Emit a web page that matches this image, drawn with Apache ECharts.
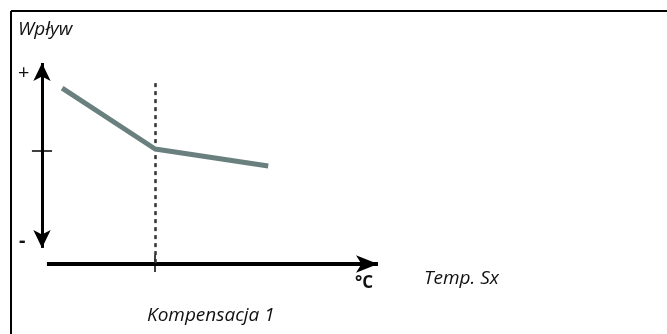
<!DOCTYPE html>
<html><head><meta charset="utf-8">
<script src="https://cdn.jsdelivr.net/npm/echarts@6/dist/echarts.min.js"></script>
<style>html,body{margin:0;padding:0;background:#fff}#c{width:667px;height:334px}</style>
</head><body><div id="c"></div>
<script>
// Data
var curveX = [0.9, 5.05, 10.1];
var curveY = [8.75, 5.72, 4.88];
var breakX = 5.05;       // Kompensacja 1 position
var yTickMid = 5.62;     // middle tick on influence axis
var yAxisTop = 10, yAxisBottom = 0.8;
var xAxisStart = 0.22, xAxisEnd = 15;
var labels = {title: 'Wpływ', plus: '+', minus: '-', unit: '°C', xName: 'Temp. Sx', comp: 'Kompensacja 1'};

var fam = 'Open Sans';
var chart = echarts.init(document.getElementById('c'));
var black = '#000';
function ttl(x, y, t, size, style, weight) {
  return {text: t, left: x, top: y, padding: 0, itemGap: 0,
    textStyle: {fontSize: size, fontStyle: style || 'normal', fontWeight: weight || 'normal', fontFamily: fam, color: '#111'}};
}
chart.setOption({
  animation: false,
  title: [
    ttl(18, 20, labels.title, 19, 'italic'),
    ttl(18, 63, labels.plus, 20),
    ttl(19, 231, labels.minus, 20, 'normal', 'bold'),
    ttl(355, 275, labels.unit, 17, 'normal', 'bold'),
    ttl(424, 269, labels.xName, 19, 'italic'),
    ttl(147, 306, labels.comp, 19, 'italic')
  ],
  grid: {left: 19.6, top: 63, width: 358.4, height: 241.2},
  xAxis: {type: 'value', min: -1, max: 15, show: false},
  yAxis: {type: 'value', min: -2, max: 10, show: false},
  series: [
    {
      type: 'line',
      data: curveX.map(function (x, i) { return [x, curveY[i]]; }),
      symbol: 'none',
      lineStyle: {color: '#6a807e', width: 5},
      z: 5,
      markLine: {
        silent: true,
        animation: false,
        label: {show: false},
        data: [
          [{coord: [0, yAxisTop], symbol: 'arrow', symbolSize: [13, 18], lineStyle: {color: black, width: 3, type: 'solid'}},
           {coord: [0, yAxisBottom], symbol: 'arrow', symbolSize: [13, 18]}],
          [{coord: [xAxisStart, 0], symbol: 'none', lineStyle: {color: black, width: 4, type: 'solid'}},
           {coord: [xAxisEnd, 0], symbol: 'arrow', symbolSize: [13, 22]}],
          [{coord: [-0.45, yTickMid], symbol: 'none', lineStyle: {color: black, width: 1.5, type: 'solid'}},
           {coord: [0.45, yTickMid], symbol: 'none'}],
          [{coord: [breakX, 0.45], symbol: 'none', lineStyle: {color: black, width: 1.5, type: 'solid'}},
           {coord: [breakX, -0.4], symbol: 'none'}],
          [{coord: [breakX, 9.0], symbol: 'none', lineStyle: {color: '#333', width: 2.5, type: [4, 4]}},
           {coord: [breakX, 0], symbol: 'none'}]
        ]
      }
    }
  ],
  graphic: [
    {type: 'line', shape: {x1: 11, y1: 11, x2: 667, y2: 11}, style: {stroke: black, lineWidth: 2}},
    {type: 'line', shape: {x1: 11, y1: 11, x2: 11, y2: 334}, style: {stroke: black, lineWidth: 2}}
  ]
});
</script></body></html>
